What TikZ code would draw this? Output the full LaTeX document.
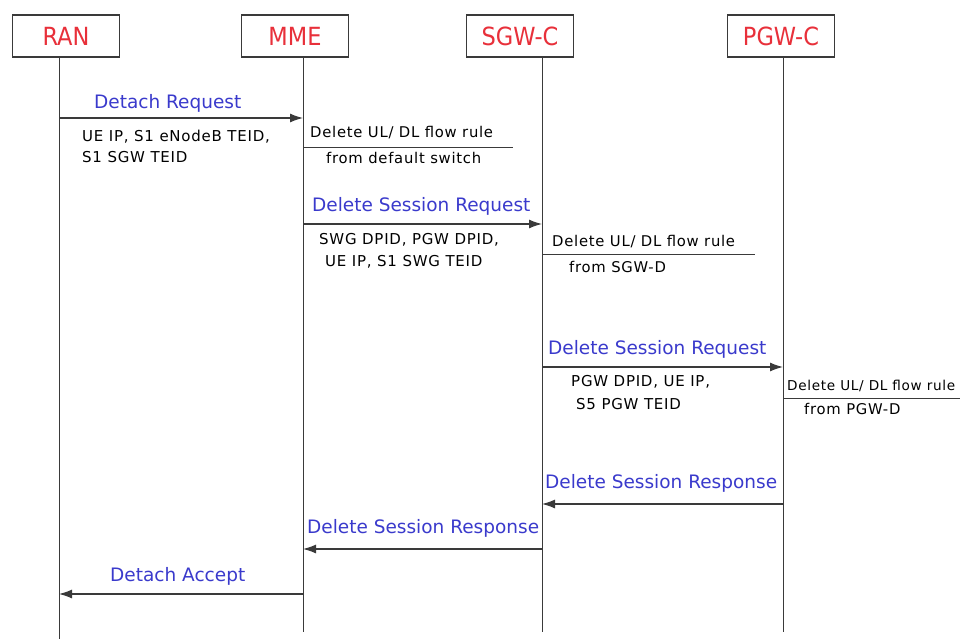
\documentclass[tikz,border=0pt]{standalone}
\usepackage{fontspec}
\setmainfont{DejaVu Sans}
\newfontfamily\condfont{DejaVu Sans Condensed}
\newfontfamily\wideparams[LetterSpace=5]{DejaVu Sans}
\usetikzlibrary{arrows.meta}
\definecolor{actred}{HTML}{E8303A}
\definecolor{msgblue}{HTML}{3A3ACC}
\definecolor{linegray}{HTML}{3A3A3A}
\tikzset{
  actor/.style={draw=linegray, line width=1.6pt, minimum width=107pt, minimum height=42pt, inner sep=0pt, text=actred, font=\condfont\fontsize{25}{28}\selectfont},
  life/.style={draw=linegray, line width=1pt},
  msg/.style={draw=linegray, line width=1.2pt, -{Latex[length=13pt,width=9pt]}},
  note/.style={draw=linegray, line width=0.8pt},
  mlabel/.style={text=msgblue, font=\fontsize{18.5}{21}\selectfont, inner sep=0pt, anchor=west},
  ptext/.style={text=black, font=\wideparams\fontsize{15}{18}\selectfont, inner sep=0pt, anchor=west},
  ntext/.style={text=black, font=\wideparams\fontsize{14.8}{17}\selectfont, inner sep=0pt, anchor=west},
  ntextsmall/.style={text=black, font=\wideparams\fontsize{13.6}{16}\selectfont, inner sep=0pt, anchor=west}
}
\begin{document}
\begin{tikzpicture}[x=1pt,y=-1pt]
\useasboundingbox[fill=white] (0,0) rectangle (960,639);
% actors
\node[actor] (ran) at (66,36) {RAN};
\node[actor] (mme) at (295,36) {MME};
\node[actor] (sgw) at (520,36) {SGW-C};
\node[actor] (pgw) at (781,36) {PGW-C};
% lifeline ends
\coordinate (ranE) at (59,639);
\coordinate (mmeE) at (303,632);
\coordinate (sgwE) at (542,632);
\coordinate (pgwE) at (783,632);
\draw[life] (ran.south -| ranE) -- (ranE);
\draw[life] (mme.south -| mmeE) -- (mmeE);
\draw[life] (sgw.south -| sgwE) -- (sgwE);
\draw[life] (pgw.south -| pgwE) -- (pgwE);
% message points
\coordinate (r1) at (59,118);  \coordinate (m1) at (303,118);
\coordinate (m3) at (303,224); \coordinate (s3) at (542,224);
\coordinate (s5) at (542,367); \coordinate (p5) at (783,367);
\coordinate (p7) at (783,504); \coordinate (s7) at (542,504);
\coordinate (s8) at (542,549); \coordinate (m8) at (303,549);
\coordinate (m9) at (303,594); \coordinate (r9) at (59,594);
% note points
\coordinate (n1a) at (303,147); \coordinate (n1b) at (513,147);
\coordinate (n2a) at (542,254); \coordinate (n2b) at (755,254);
\coordinate (n3a) at (783,398); \coordinate (n3b) at (960,398);
% 1 Detach Request
\draw[msg] (r1) -- (m1);
\node[mlabel] (l1) at (94,103) {Detach Request};
\node[ptext] (t1a) at (82,137) {UE IP, S1 eNodeB TEID,};
\node[ptext] (t1b) at (82,157) {S1 SGW TEID};
% note MME
\node[ntext] (n1t) at (310,133) {Delete UL/ DL flow rule};
\draw[note] (n1a) -- (n1b);
\node[ntext] (n1u) at (326,158) {from default switch};
% 3 Delete Session Request
\draw[msg] (m3) -- (s3);
\node[mlabel] (l3) at (312,206) {Delete Session Request};
\node[ptext] (t3a) at (319,240) {SWG DPID, PGW DPID,};
\node[ptext] (t3b) at (325,262) {UE IP, S1 SWG TEID};
% note SGW
\node[ntext] (n2t) at (552,242) {Delete UL/ DL flow rule};
\draw[note] (n2a) -- (n2b);
\node[ntext] (n2u) at (569,267) {from SGW-D};
% 5 Delete Session Request
\draw[msg] (s5) -- (p5);
\node[mlabel] (l5) at (548,349) {Delete Session Request};
\node[ptext] (t5a) at (571,382) {PGW DPID, UE IP,};
\node[ptext] (t5b) at (576,404) {S5 PGW TEID};
% note PGW
\node[ntextsmall] (n3t) at (787,386) {Delete UL/ DL flow rule};
\draw[note] (n3a) -- (n3b);
\node[ntext] (n3u) at (804,409) {from PGW-D};
% 7 Delete Session Response
\draw[msg] (p7) -- (s7);
\node[mlabel] (l7) at (545,483) {Delete Session Response};
% 8 Delete Session Response
\draw[msg] (s8) -- (m8);
\node[mlabel] (l8) at (307,528) {Delete Session Response};
% 9 Detach Accept
\draw[msg] (m9) -- (r9);
\node[mlabel] (l9) at (110,576) {Detach Accept};
\end{tikzpicture}
\end{document}
